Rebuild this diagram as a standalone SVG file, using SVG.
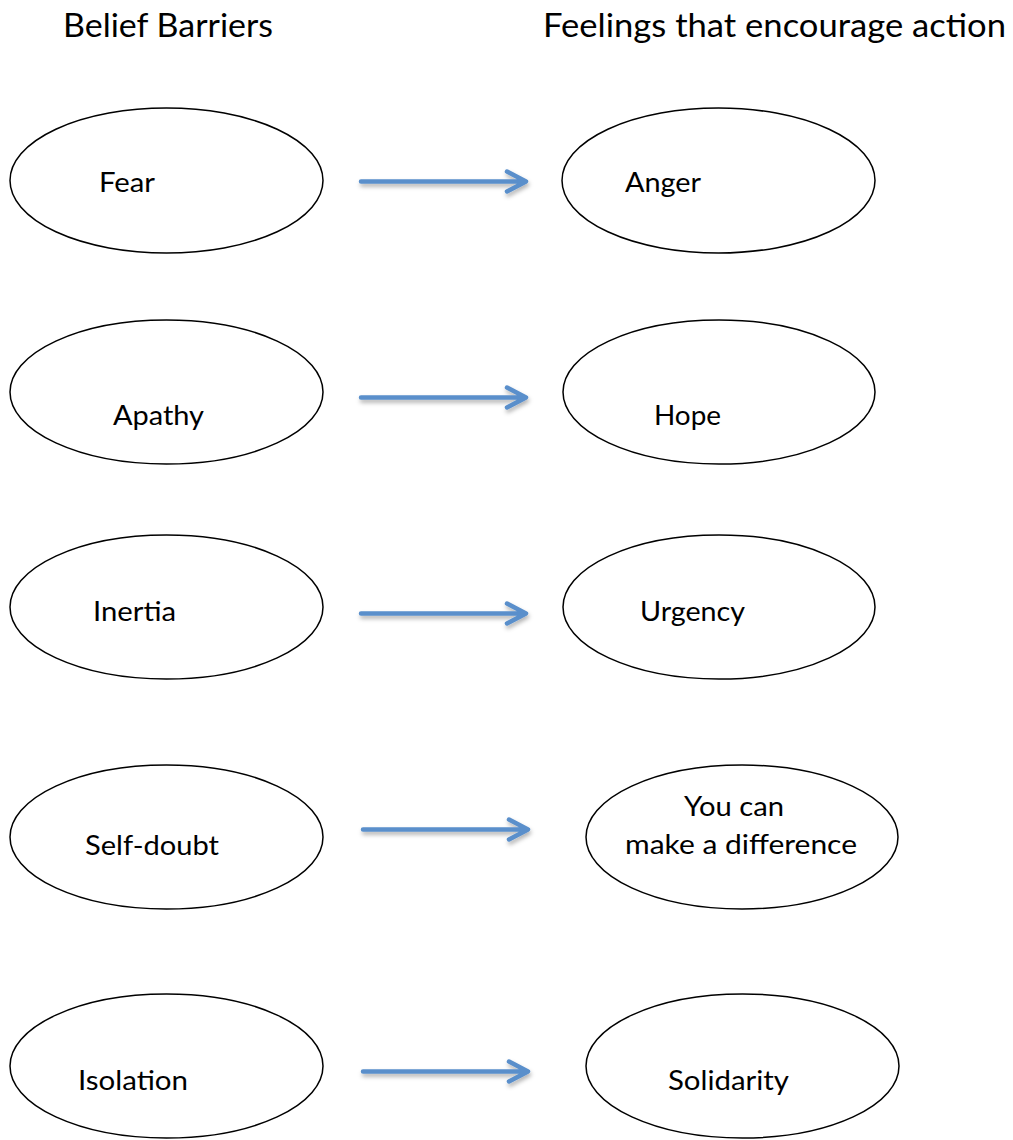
<svg xmlns="http://www.w3.org/2000/svg" width="1013" height="1140" viewBox="0 0 1013 1140">
<style>
  .node ellipse { fill: #ffffff; stroke: #000000; stroke-width: 1.5; }
  text { font-family: Lato, "Liberation Sans", sans-serif; font-size: 26px; fill: #000000; }
  .hdr { font-size: 32px; }
  .arrow { fill: none; stroke: #5A8FCB; stroke-width: 4.5; stroke-linecap: round; stroke-linejoin: round; filter: url(#sh); }
</style>
<defs>
  <filter id="sh" x="-10%" y="-60%" width="120%" height="220%">
    <feDropShadow dx="1" dy="3" stdDeviation="2" flood-color="#000000" flood-opacity="0.3"/>
  </filter>
</defs>
<rect width="1013" height="1140" fill="#ffffff"/>
<g id="headers">
  <text class="hdr" x="63" y="37" textLength="210" lengthAdjust="spacingAndGlyphs">Belief Barriers</text>
  <text class="hdr" x="543" y="37" textLength="463" lengthAdjust="spacingAndGlyphs">Feelings that encourage action</text>
</g>
<g id="fear" class="node"><ellipse cx="166.5" cy="180.5" rx="156.5" ry="72.5"/><text x="99" y="192" textLength="56" lengthAdjust="spacingAndGlyphs">Fear</text></g>
<g id="anger" class="node"><ellipse cx="718.5" cy="180.5" rx="156.5" ry="72.5"/><text x="625" y="192" textLength="76" lengthAdjust="spacingAndGlyphs">Anger</text></g>
<g id="apathy" class="node"><ellipse cx="166.5" cy="392" rx="156.5" ry="72"/><text x="113" y="425" textLength="91" lengthAdjust="spacingAndGlyphs">Apathy</text></g>
<g id="hope" class="node"><ellipse cx="719" cy="392" rx="156" ry="72"/><text x="654" y="425" textLength="67" lengthAdjust="spacingAndGlyphs">Hope</text></g>
<g id="inertia" class="node"><ellipse cx="166.5" cy="607" rx="156.5" ry="72"/><text x="93" y="621" textLength="83" lengthAdjust="spacingAndGlyphs">Inertia</text></g>
<g id="urgency" class="node"><ellipse cx="719" cy="607" rx="156" ry="72"/><text x="640" y="621" textLength="105" lengthAdjust="spacingAndGlyphs">Urgency</text></g>
<g id="selfdoubt" class="node"><ellipse cx="166.5" cy="837" rx="156.5" ry="72"/><text x="85" y="855" textLength="134" lengthAdjust="spacingAndGlyphs">Self-doubt</text></g>
<g id="difference" class="node"><ellipse cx="742" cy="837" rx="156" ry="72"/><text x="684" y="816" textLength="100" lengthAdjust="spacingAndGlyphs">You can</text><text x="625" y="854" textLength="232" lengthAdjust="spacingAndGlyphs">make a difference</text></g>
<g id="isolation" class="node"><ellipse cx="166.5" cy="1066" rx="156.5" ry="72"/><text x="78" y="1090" textLength="110" lengthAdjust="spacingAndGlyphs">Isolation</text></g>
<g id="solidarity" class="node"><ellipse cx="742.5" cy="1066" rx="156.5" ry="72"/><text x="668" y="1090" textLength="121" lengthAdjust="spacingAndGlyphs">Solidarity</text></g>
<g id="connectors">
  <path class="arrow" d="M361 181.5 H525 M507 171.5 L526 181.5 L507 191.5"/>
  <path class="arrow" d="M361 397.5 H525 M507 387.5 L526 397.5 L507 407.5"/>
  <path class="arrow" d="M361 613.5 H525 M507 603.5 L526 613.5 L507 623.5"/>
  <path class="arrow" d="M363 829.5 H527 M509 819.5 L528 829.5 L509 839.5"/>
  <path class="arrow" d="M363 1071.5 H527 M509 1061.5 L528 1071.5 L509 1081.5"/>
</g>
</svg>
